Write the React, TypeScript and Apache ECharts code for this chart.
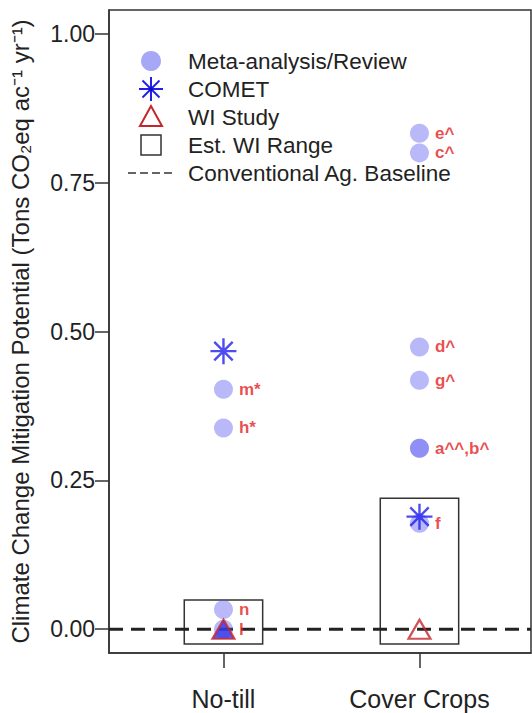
import React, { useEffect, useRef } from "react";
import * as echarts from "echarts";

// ---- data ----
const categories = ["No-till", "Cover Crops"];
const categoryPos = [1, 2];
const yTicks = [0, 0.25, 0.5, 0.75, 1];

const metaX = [1, 1, 1, 1, 2, 2, 2, 2, 2, 2, 2];
const metaY = [0.403, 0.338, 0.033, 0.0, 0.833, 0.8, 0.474, 0.418, 0.304, 0.304, 0.178];
const metaLabels = ["m*", "h*", "n", "l", "e^", "c^", "d^", "g^", "a^^,b^", "", "f"];

const cometX = [1, 2];
const cometY = [0.467, 0.189];

const wiX = [1, 2];
const wiY = [0, 0];

const rangeXMin = [0.8, 1.8];
const rangeXMax = [1.2, 2.2];
const rangeYMin = [-0.025, -0.025];
const rangeYMax = [0.049, 0.22];

const baselineY = 0;

const legendLabels = [
  "Meta-analysis/Review",
  "COMET",
  "WI Study",
  "Est. WI Range",
  "Conventional Ag. Baseline",
];

const X_MIN = 0.416;
const X_MAX = 2.569;
const Y_MIN = -0.04;
const Y_MAX = 1.04;

const FONT = "'Liberation Sans', Arial, Helvetica, sans-serif";
const META_COLOR = "rgba(80,80,240,0.5)";
const COMET_COLOR = "#1f1fee";
const WI_COLOR = "#c4262e";
const LABEL_COLOR = "#e51d1d";
const INK = "#222";
const STAR_PATH =
  "path://M12 0 L12 24 M0 12 L24 12 M3.5 3.5 L20.5 20.5 M3.5 20.5 L20.5 3.5";

export default function App() {
  const ref = useRef<HTMLDivElement>(null);

  useEffect(() => {
    if (!ref.current) return;
    const chart = echarts.init(ref.current, null, { renderer: "svg" });

    const lx = 151;
    const ly0 = 61;
    const lstep = 28;
    const legendGraphics: any[] = [];
    legendGraphics.push({
      type: "circle",
      shape: { cx: lx, cy: ly0, r: 10 },
      style: { fill: META_COLOR },
    });
    const sy = ly0 + lstep;
    const r = 12;
    const d = 8.5;
    [
      [lx, sy - r, lx, sy + r],
      [lx - r, sy, lx + r, sy],
      [lx - d, sy - d, lx + d, sy + d],
      [lx - d, sy + d, lx + d, sy - d],
    ].forEach((p) =>
      legendGraphics.push({
        type: "line",
        shape: { x1: p[0], y1: p[1], x2: p[2], y2: p[3] },
        style: { stroke: COMET_COLOR, lineWidth: 2 },
      })
    );
    legendGraphics.push({
      type: "circle",
      shape: { cx: lx, cy: sy, r: 2 },
      style: { fill: "#1010c0" },
    });
    const ty = ly0 + 2 * lstep;
    legendGraphics.push({
      type: "polygon",
      shape: {
        points: [
          [lx, ty - 11],
          [lx - 11, ty + 9],
          [lx + 11, ty + 9],
        ],
      },
      style: { fill: "none", stroke: WI_COLOR, lineWidth: 2 },
    });
    const qy = ly0 + 3 * lstep;
    legendGraphics.push({
      type: "rect",
      shape: { x: lx - 10, y: qy - 10, width: 20, height: 20 },
      style: { fill: "none", stroke: "#333", lineWidth: 1.5 },
    });
    const dy = ly0 + 4 * lstep;
    legendGraphics.push({
      type: "line",
      shape: { x1: 128, y1: dy, x2: 174, y2: dy },
      style: { stroke: "#333", lineWidth: 1.5, lineDash: [8, 4] },
    });
    legendLabels.forEach((t, i) =>
      legendGraphics.push({
        type: "text",
        x: 188,
        y: ly0 + i * lstep,
        style: {
          text: t,
          fill: INK,
          fontSize: 22.5,
          fontFamily: FONT,
          verticalAlign: "middle",
          align: "left",
        },
      })
    );

    const rangeData = rangeXMin.map((v, i) => [v, rangeXMax[i], rangeYMin[i], rangeYMax[i]]);

    chart.setOption({
      animation: false,
      backgroundColor: "#fff",
      textStyle: { fontFamily: FONT },
      grid: {
        left: 107,
        right: 1,
        top: 10,
        bottom: 60,
        show: true,
        borderColor: "#333",
        borderWidth: 1.5,
        backgroundColor: "transparent",
      },
      xAxis: {
        type: "value",
        min: X_MIN,
        max: X_MAX,
        splitLine: { show: false },
        axisLine: { show: true, onZero: false, lineStyle: { color: "#333", width: 1.5 } },
        axisTick: {
          show: true,
          customValues: categoryPos,
          length: 15,
          lineStyle: { color: "#333", width: 1.5 },
        },
        axisLabel: {
          show: true,
          customValues: categoryPos,
          formatter: (v: number) => categories[categoryPos.indexOf(Math.round(v))] ?? "",
          fontSize: 25,
          color: INK,
          margin: 33,
          fontFamily: FONT,
        },
      },
      yAxis: {
        type: "value",
        min: Y_MIN,
        max: Y_MAX,
        splitLine: { show: false },
        axisLine: { show: true, onZero: false, lineStyle: { color: "#333", width: 1.5 } },
        axisTick: {
          show: true,
          customValues: yTicks,
          length: 14,
          lineStyle: { color: "#333", width: 1.5 },
        },
        axisLabel: {
          show: true,
          customValues: yTicks,
          formatter: (v: number) => v.toFixed(2),
          fontSize: 23,
          color: INK,
          margin: 14,
          fontFamily: FONT,
        },
        name: "Climate Change Mitigation Potential (Tons CO\u2082eq ac\u207B\u00B9 yr\u207B\u00B9)",
        nameLocation: "middle",
        nameRotate: 90,
        nameGap: 77,
        nameTextStyle: { fontSize: 24, color: INK, fontFamily: FONT },
      },
      graphic: { elements: legendGraphics },
      series: [
        {
          name: "Est. WI Range",
          type: "custom",
          data: rangeData,
          encode: { x: [0, 1], y: [2, 3] },
          renderItem: (params: any, api: any) => {
            const p1 = api.coord([api.value(0), api.value(3)]);
            const p2 = api.coord([api.value(1), api.value(2)]);
            return {
              type: "rect",
              shape: { x: p1[0], y: p1[1], width: p2[0] - p1[0], height: p2[1] - p1[1] },
              style: { fill: "none", stroke: "#333", lineWidth: 1.5 },
            };
          },
          z: 1,
        },
        {
          name: "Conventional Ag. Baseline",
          type: "line",
          data: [
            [X_MIN, baselineY],
            [X_MAX, baselineY],
          ],
          showSymbol: false,
          symbol: "none",
          lineStyle: { color: "#222", width: 3, type: [14, 8] },
          z: 2,
        },
        {
          name: "Meta-analysis/Review",
          type: "scatter",
          symbol: "circle",
          symbolSize: 19,
          itemStyle: { color: META_COLOR },
          data: metaX.map((x, i) => ({ value: [x, metaY[i]], name: metaLabels[i] })),
          label: {
            show: true,
            position: "right",
            distance: 6,
            formatter: (p: any) => p.name,
            color: LABEL_COLOR,
            fontSize: 17,
            lineHeight: 17,
            fontWeight: "bold",
            fontFamily: FONT,
          },
          z: 3,
        },
        {
          name: "COMET",
          type: "scatter",
          symbol: STAR_PATH,
          symbolSize: 26,
          itemStyle: { color: COMET_COLOR, borderColor: COMET_COLOR, borderWidth: 2.4 },
          data: cometX.map((x, i) => [x, cometY[i]]),
          z: 4,
        },
        {
          name: "WI Study",
          type: "scatter",
          symbol: "triangle",
          symbolSize: [22, 19],
          itemStyle: { borderColor: WI_COLOR, borderWidth: 2.2 },
          data: wiX.map((x, i) => ({
            value: [x, wiY[i]],
            itemStyle: { color: i === 0 ? "#3535e6" : "rgba(255,255,255,0)" },
          })),
          z: 5,
        },
      ],
    });

    return () => chart.dispose();
  }, []);

  return (
    <div
      ref={ref}
      style={{ position: "fixed", left: 0, top: 0, width: 532, height: 713 }}
    />
  );
}
